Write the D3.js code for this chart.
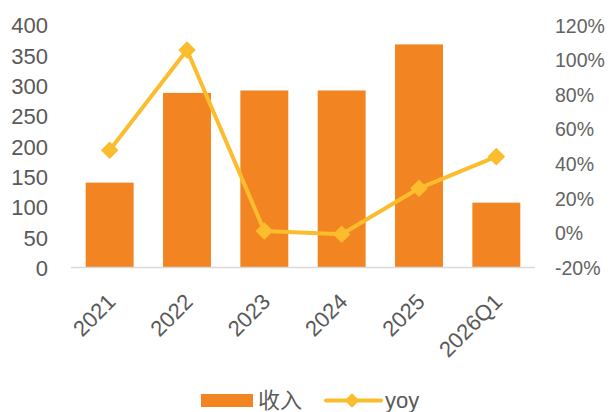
<!DOCTYPE html>
<html>
<head>
<meta charset="utf-8">
<script src="https://cdn.jsdelivr.net/npm/d3@7/dist/d3.min.js"></script>
<style>
  html, body { margin: 0; padding: 0; background: #fff; }
  svg { display: block; }
</style>
</head>
<body>
<svg id="chart" width="609" height="412"></svg>
<script>
// Revenue (收入) by period with year-over-year growth (yoy)
const categories = ["2021", "2022", "2023", "2024", "2025", "2026Q1"];
const revenue = [140, 288, 292, 292, 368, 107];
const yoy = [0.477, 1.056, 0.011, -0.008, 0.257, 0.44];
const leftTicks = [0, 50, 100, 150, 200, 250, 300, 350, 400];
const rightTicks = [-0.2, 0, 0.2, 0.4, 0.6, 0.8, 1.0, 1.2];

const barColor = "#F28522";
const lineColor = "#FBBC2D";
const textColor = "#595959";

const svg = d3.select("#chart");

const plot = { left: 71, right: 535, top: 25, bottom: 267.5 };

const x = d3.scaleBand()
  .domain(categories)
  .range([plot.left, plot.right])
  .paddingInner(0.38)
  .paddingOuter(0.19);

const yLeft = d3.scaleLinear().domain([0, 400]).range([plot.bottom, plot.top]);
const yRight = d3.scaleLinear().domain([-0.2, 1.2]).range([plot.bottom, plot.top]);

// Bars
svg.append("g")
  .selectAll("rect")
  .data(categories)
  .join("rect")
  .attr("x", d => x(d))
  .attr("width", x.bandwidth())
  .attr("y", (d, i) => yLeft(revenue[i]))
  .attr("height", (d, i) => yLeft(0) - yLeft(revenue[i]))
  .attr("fill", barColor);

// Category axis baseline
svg.append("line")
  .attr("x1", plot.left).attr("x2", plot.right)
  .attr("y1", yLeft(0)).attr("y2", yLeft(0))
  .attr("stroke", "#d9d9d9").attr("stroke-width", 1.5);

// Left axis labels
const leftAxis = d3.axisLeft(yLeft).tickValues(leftTicks).tickSize(0).tickPadding(0);
const gL = svg.append("g").attr("transform", "translate(48,0)").call(leftAxis);
gL.select(".domain").remove();
gL.selectAll("text")
  .attr("fill", textColor)
  .attr("font-family", "'Liberation Sans', Arial, sans-serif")
  .attr("font-size", 22)
  .attr("dy", "0.36em");

// Right axis labels (plain hyphen for negatives)
const pct = d => Math.round(d * 100) + "%";
const rightAxis = d3.axisRight(yRight).tickValues(rightTicks).tickSize(0).tickPadding(0)
  .tickFormat(pct);
const gR = svg.append("g").attr("transform", "translate(555,0)").call(rightAxis);
gR.select(".domain").remove();
gR.selectAll("text")
  .attr("fill", "#636363")
  .attr("font-family", "'Liberation Sans', Arial, sans-serif")
  .attr("font-size", 19.5)
  .attr("dy", "0.36em");

// Rotated category labels
svg.append("g")
  .selectAll("text")
  .data(categories)
  .join("text")
  .attr("transform", d => `translate(${x(d) + x.bandwidth() / 2 - 4},${292}) rotate(-45)`)
  .attr("text-anchor", "end")
  .attr("dy", "0.72em")
  .attr("fill", textColor)
  .attr("font-family", "'Liberation Sans', Arial, sans-serif")
  .attr("font-size", 22)
  .text(d => d);

// yoy line with diamond markers
const cx = d => x(d) + x.bandwidth() / 2;
const line = d3.line()
  .x((d, i) => cx(categories[i]))
  .y(d => yRight(d));

svg.append("path")
  .datum(yoy)
  .attr("d", line)
  .attr("fill", "none")
  .attr("stroke", lineColor)
  .attr("stroke-width", 4)
  .attr("stroke-linejoin", "round");

svg.append("g")
  .selectAll("path")
  .data(yoy)
  .join("path")
  .attr("transform", (d, i) => `translate(${cx(categories[i])},${yRight(d)}) rotate(45)`)
  .attr("d", d3.symbol().type(d3.symbolSquare).size(120))
  .attr("fill", lineColor)
  .attr("stroke", lineColor)
  .attr("stroke-width", 1.5)
  .attr("stroke-linejoin", "round");

// Legend
const legend = svg.append("g");
legend.append("rect")
  .attr("x", 201).attr("y", 394).attr("width", 52).attr("height", 13)
  .attr("fill", barColor);
legend.append("text")
  .attr("x", 258).attr("y", 400).attr("dy", "0.36em")
  .attr("fill", textColor)
  .attr("font-family", "'Noto Sans CJK SC', sans-serif")
  .attr("font-size", 22)
  .text("收入");
legend.append("line")
  .attr("x1", 326).attr("x2", 381).attr("y1", 400.5).attr("y2", 400.5)
  .attr("stroke", lineColor).attr("stroke-width", 4).attr("stroke-linecap", "round");
legend.append("path")
  .attr("transform", "translate(352,400.5) rotate(45)")
  .attr("d", d3.symbol().type(d3.symbolSquare).size(80))
  .attr("fill", lineColor)
  .attr("stroke", lineColor)
  .attr("stroke-width", 1.5)
  .attr("stroke-linejoin", "round");
legend.append("text")
  .attr("x", 385).attr("y", 400).attr("dy", "0.36em")
  .attr("fill", textColor)
  .attr("font-family", "'Liberation Sans', Arial, sans-serif")
  .attr("font-size", 22)
  .text("yoy");
</script>
</body>
</html>
